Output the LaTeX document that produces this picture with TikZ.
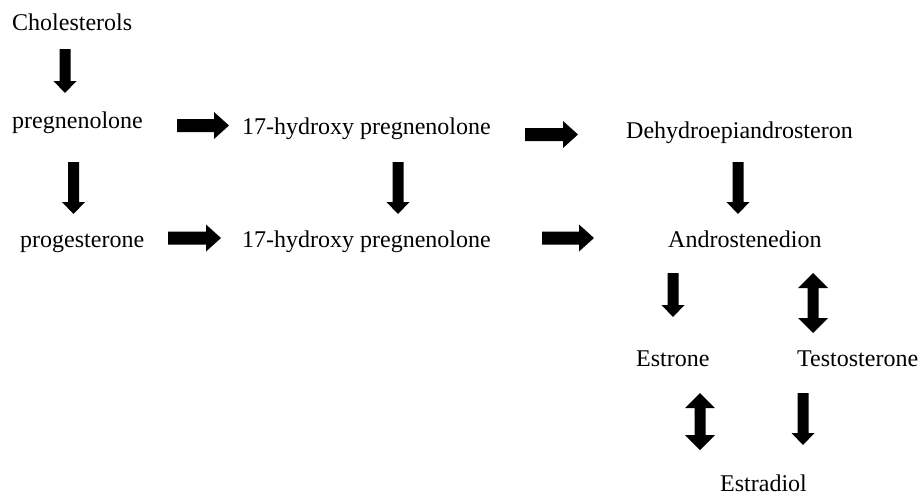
\documentclass[tikz,border=0pt]{standalone}
\usepackage{fontspec}
\setmainfont{Liberation Serif}
\tikzset{
  lbl/.style={anchor=base west, inner sep=0pt, font=\fontsize{24}{28}\selectfont},
  blk/.style={fill=black, draw=none}
}
% right arrow: x0, x1, y
\newcommand\myRarrow[3]{\fill[blk] (#1,#3-6.5) -- (#2-15,#3-6.5) -- (#2-15,#3-13.5) -- (#2,#3) -- (#2-15,#3+13.5) -- (#2-15,#3+6.5) -- (#1,#3+6.5) -- cycle;}
% down arrow: x, y0, y1
\newcommand\myDarrow[3]{\fill[blk] (#1-5.5,#2) -- (#1+5.5,#2) -- (#1+5.5,#3-12) -- (#1+11.5,#3-12) -- (#1,#3) -- (#1-11.5,#3-12) -- (#1-5.5,#3-12) -- cycle;}
% double vertical arrow: x, y0, y1
\newcommand\myVVarrow[3]{\fill[blk] (#1,#2) -- (#1+15,#2+15) -- (#1+5.5,#2+15) -- (#1+5.5,#3-15) -- (#1+15,#3-15) -- (#1,#3) -- (#1-15,#3-15) -- (#1-5.5,#3-15) -- (#1-5.5,#2+15) -- (#1-15,#2+15) -- cycle;}
\begin{document}
\begin{tikzpicture}[x=1pt,y=-1pt]
\useasboundingbox (0,0) rectangle (919,496);
\node[lbl] (chol) at (12,30) {Cholesterols};
\node[lbl] (preg) at (12,128) {pregnenolone};
\node[lbl] (hp1) at (242,134) {17-hydroxy pregnenolone};
\node[lbl] (dhea) at (626,138) {Dehydroepiandrosteron};
\node[lbl] (prog) at (20,247) {progesterone};
\node[lbl] (hp2) at (242,247) {17-hydroxy pregnenolone};
\node[lbl] (andr) at (668,247) {Androstenedion};
\node[lbl] (estr) at (636,366) {Estrone};
\node[lbl] (test) at (797,366) {Testosterone};
\node[lbl] (estd) at (720,491) {Estradiol};
\myDarrow{65}{49}{93}
\myRarrow{177}{229}{125.5}
\myRarrow{525}{578}{134.5}
\myDarrow{73.5}{162}{214}
\myDarrow{398}{162}{214}
\myDarrow{738}{162}{214}
\myRarrow{168}{221}{238}
\myRarrow{542}{594}{238}
\myDarrow{673}{273}{317}
\myVVarrow{813}{273}{333}
\myVVarrow{700}{393}{450}
\myDarrow{803}{393}{445}
\end{tikzpicture}
\end{document}
